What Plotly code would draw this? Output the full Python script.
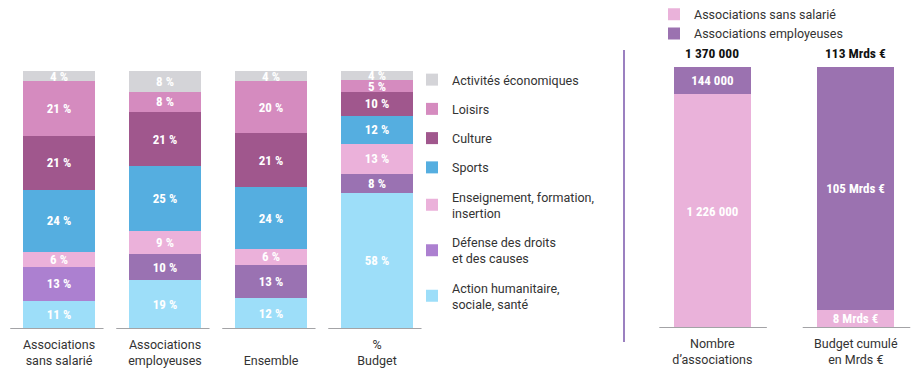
import plotly.graph_objects as go

# ---------------- data ----------------
categories = ["Associations sans salarié", "Associations employeuses", "Ensemble", "% Budget"]
tick_labels = ["Associations<br>sans salarié", "Associations<br>employeuses", " <br>Ensemble", "%<br>Budget"]

sectors = [
    "Action humanitaire,<br>sociale, santé",
    "Défense des droits<br>et des causes",
    "Enseignement, formation,<br>insertion",
    "Sports",
    "Culture",
    "Loisirs",
    "Activités économiques",
]
action_humanitaire = [11, 19, 12, 58]
defense_droits = [13, 10, 13, 8]
enseignement = [6, 9, 6, 13]
sports = [24, 25, 24, 12]
culture = [21, 21, 21, 10]
loisirs = [21, 8, 20, 5]
activites_eco = [4, 8, 4, 4]
sector_values = [action_humanitaire, defense_droits, enseignement, sports, culture, loisirs, activites_eco]

right_categories = ["Nombre d'associations", "Budget cumulé en Mrds €"]
right_tick_labels = ["Nombre<br>d’associations", "Budget cumulé<br>en Mrds €"]
sans_salarie = [1226000, 8]
employeuses = [144000, 105]
right_series = ["Associations sans salarié", "Associations employeuses"]

# ---------------- style ----------------
sector_colors = [
    ["#9ddef9"] * 4,
    ["#ac80d0", "#9a72b2", "#9a72b2", "#9a72b2"],
    ["#ebb1da"] * 4,
    ["#55aee0"] * 4,
    ["#a0578d"] * 4,
    ["#d58bbf"] * 4,
    ["#d4d4d8"] * 4,
]
right_colors = ["#eab2da", "#9b72b0"]
BAR_FONT = "Roboto Condensed, Liberation Sans Narrow, Roboto, sans-serif"
TXT_FONT = "Roboto, Liberation Sans, sans-serif"
W, H = 920, 376


def fmt_count(v):
    return f"{v:,}".replace(",", " ")


def fmt_budget(v):
    return f"{v} Mrds €"


fig = go.Figure()

n = len(sectors)
for i, (name, vals, cols) in enumerate(zip(sectors, sector_values, sector_colors)):
    fig.add_trace(go.Bar(
        x=categories, y=vals, name=name,
        marker=dict(color=cols, line=dict(width=0)),
        text=[f"{v} %" for v in vals],
        textposition="inside", insidetextanchor="middle",
        textfont=dict(color="white", size=13, family=BAR_FONT, weight="bold"),
        width=0.67, legendgroup=name, legendrank=n - i, hoverinfo="skip",
        xaxis="x", yaxis="y", legend="legend",
    ))

right_text = [
    [fmt_count(sans_salarie[0]), fmt_budget(sans_salarie[1])],
    [fmt_count(employeuses[0]), fmt_budget(employeuses[1])],
]
for name, vals, col, txt in zip(right_series, [sans_salarie, employeuses], right_colors, right_text):
    fig.add_trace(go.Bar(
        x=right_categories, y=vals, name=name,
        marker=dict(color=col, line=dict(width=0)),
        text=txt, textposition="inside", insidetextanchor="middle",
        textfont=dict(color="white", size=13, family=BAR_FONT, weight="bold"),
        width=0.54, hoverinfo="skip",
        xaxis="x2", yaxis="y2", legend="legend2",
    ))

# totals above right bars
totals = [fmt_count(sans_salarie[0] + employeuses[0]), fmt_budget(sans_salarie[1] + employeuses[1])]
for cat, t in zip(right_categories, totals):
    fig.add_annotation(x=cat, y=100, xref="x2", yref="y2", text=t, showarrow=False,
                       yanchor="bottom", yshift=4,
                       font=dict(size=13.5, color="#111", family=BAR_FONT, weight="bold"))

# baseline segments
shapes = []
for i in range(len(categories)):
    shapes.append(dict(type="line", xref="x", yref="y", x0=i - 0.46, x1=i + 0.42, y0=0, y1=0,
                       line=dict(color="#a3a3a6", width=2)))
for i in range(len(right_categories)):
    shapes.append(dict(type="line", xref="x2", yref="y2", x0=i - 0.37, x1=i + 0.38, y0=0, y1=0,
                       line=dict(color="#a3a3a6", width=2)))
# separator
shapes.append(dict(type="line", xref="paper", yref="paper", x0=624 / W, x1=624 / W,
                   y0=1 - 342 / H, y1=1 - 50 / H, line=dict(color="#9b80c0", width=2)))

fig.update_layout(
    width=W, height=H, margin=dict(l=0, r=0, t=0, b=0, autoexpand=False),
    paper_bgcolor="white", plot_bgcolor="white",
    barmode="stack", barnorm="percent", bargap=0.3,
    uniformtext=dict(minsize=13, mode="show"),
    font=dict(family=TXT_FONT, size=12.5, color="#333"),
    shapes=shapes,
    xaxis=dict(domain=[6 / W, 430 / W], range=[-0.5, 3.5], showgrid=False, showline=False,
               zeroline=False, ticks="", tickvals=categories, ticktext=tick_labels,
               tickfont=dict(size=12.5, color="#333"), automargin=False, ticklabelstandoff=6),
    yaxis=dict(domain=[1 - 329 / H, 1 - 71 / H], range=[0, 100], visible=False, automargin=False),
    xaxis2=dict(domain=[655 / W, 916 / W], range=[-0.4, 1.42], showgrid=False, showline=False,
                zeroline=False, ticks="", tickvals=right_categories, ticktext=right_tick_labels,
                tickfont=dict(size=12.5, color="#333"), anchor="y2", automargin=False,
                ticklabelstandoff=6),
    yaxis2=dict(domain=[1 - 328 / H, 1 - 67 / H], range=[0, 100], visible=False, anchor="x2",
                automargin=False),
    legend=dict(x=412 / W, y=1 - 65 / H, xanchor="left", yanchor="top",
                traceorder="grouped", tracegroupgap=10,
                font=dict(size=12.5, color="#333"), bgcolor="rgba(0,0,0,0)"),
    legend2=dict(x=654 / W, y=1 + 0.5 / H, xanchor="left", yanchor="top",
                 traceorder="normal", tracegroupgap=0,
                 font=dict(size=12.5, color="#333"), bgcolor="rgba(0,0,0,0)"),
    showlegend=True,
)

fig.write_html("out.html", config={"displayModeBar": False, "staticPlot": True},
               post_script="document.body.style.margin='0';")
